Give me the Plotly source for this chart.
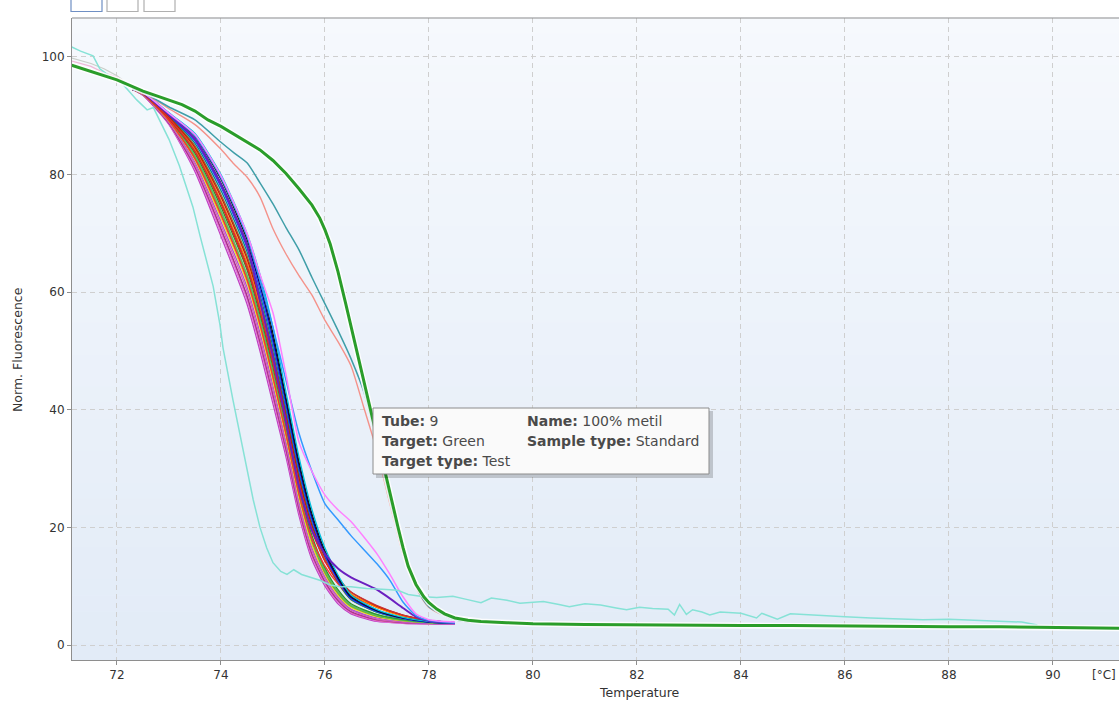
import plotly.graph_objects as go

# ---------------- data ----------------
X_TICKS = [72, 74, 76, 78, 80, 82, 84, 86, 88, 90]
Y_TICKS = [0, 20, 40, 60, 80, 100]

# shared temperature grid for the main bundle of tubes
X_BUNDLE = [72.3, 72.5, 73.0, 73.5, 74.0, 74.5, 74.75, 75.0, 75.25, 75.5,
            75.75, 76.0, 76.25, 76.5, 77.0, 77.5, 78.0, 78.5]

B01 = [94.5, 93.5, 88.5, 80.5, 69.5, 58.0, 50.0, 41.0, 32.0, 22.0, 14.5, 10.0, 7.0, 5.3, 4.0, 3.7, 3.6, 3.6]
B02 = [94.5, 93.5, 88.6, 80.9, 70.1, 58.7, 50.8, 41.8, 32.7, 22.6, 15.0, 10.4, 7.3, 5.5, 4.1, 3.7, 3.6, 3.6]
B03 = [94.5, 93.6, 88.7, 81.3, 70.8, 59.4, 51.6, 42.6, 33.3, 23.2, 15.5, 10.8, 7.6, 5.7, 4.3, 3.8, 3.7, 3.6]
B04 = [94.5, 93.6, 88.9, 81.7, 71.4, 60.2, 52.3, 43.3, 34.0, 23.8, 16.0, 11.2, 7.9, 5.9, 4.4, 3.9, 3.7, 3.6]
B05 = [94.5, 93.6, 89.0, 82.1, 72.0, 60.9, 53.1, 44.1, 34.6, 24.4, 16.5, 11.6, 8.2, 6.1, 4.6, 4.0, 3.7, 3.6]
B06 = [94.5, 93.7, 89.1, 82.5, 72.6, 61.6, 53.9, 44.9, 35.3, 25.0, 17.0, 12.0, 8.5, 6.4, 4.8, 4.1, 3.8, 3.7]
B07 = [94.5, 93.7, 89.2, 82.8, 73.3, 62.3, 54.7, 45.7, 36.0, 25.6, 17.6, 12.3, 8.8, 6.6, 4.9, 4.2, 3.8, 3.7]
B08 = [94.5, 93.7, 89.3, 83.2, 73.9, 63.0, 55.5, 46.5, 36.6, 26.2, 18.1, 12.7, 9.1, 6.8, 5.1, 4.3, 3.8, 3.7]
B09 = [94.5, 93.7, 89.5, 83.6, 74.5, 63.8, 56.2, 47.2, 37.3, 26.8, 18.6, 13.1, 9.4, 7.0, 5.2, 4.3, 3.9, 3.7]
B10 = [94.5, 93.8, 89.5, 83.9, 75.0, 64.2, 56.8, 47.8, 37.7, 27.4, 19.4, 14.2, 10.9, 8.6, 6.4, 5.0, 4.2, 3.8]
B11 = [94.5, 93.8, 89.7, 84.3, 75.6, 65.0, 57.5, 48.5, 38.4, 27.8, 19.8, 14.5, 11.1, 8.7, 6.4, 4.9, 4.1, 3.8]
B12 = [94.5, 93.8, 89.8, 84.6, 76.2, 65.7, 58.3, 49.3, 39.0, 28.4, 20.3, 15.0, 11.5, 9.0, 6.6, 5.1, 4.2, 3.8]
B13 = [94.5, 93.8, 89.9, 84.9, 76.6, 66.2, 58.8, 49.8, 39.5, 28.8, 20.3, 14.5, 10.5, 7.7, 5.6, 4.5, 3.9, 3.7]
B14 = [94.5, 93.9, 90.0, 85.3, 77.3, 66.9, 59.6, 50.6, 40.1, 29.4, 20.8, 14.8, 10.7, 7.8, 5.6, 4.5, 3.9, 3.7]
B15 = [94.5, 93.9, 90.1, 85.7, 77.9, 67.6, 60.4, 51.4, 40.8, 30.0, 21.3, 15.2, 11.0, 7.9, 5.7, 4.5, 3.9, 3.7]
B16 = [94.5, 93.9, 90.2, 86.1, 78.5, 68.3, 61.2, 52.2, 41.5, 30.6, 21.8, 15.6, 11.3, 8.1, 5.8, 4.6, 3.9, 3.7]
B17 = [94.5, 94.0, 90.3, 86.5, 79.2, 69.0, 62.0, 53.0, 42.1, 31.2, 22.3, 16.0, 11.6, 8.3, 5.9, 4.6, 4.0, 3.7]
B18 = [94.5, 94.0, 90.5, 87.0, 80.0, 70.0, 63.0, 54.0, 43.0, 32.0, 23.0, 16.5, 11.9, 8.5, 6.0, 4.7, 4.0, 3.7]
B19 = [94.5, 93.7, 89.2, 82.7, 73.1, 62.1, 54.5, 45.5, 35.9, 25.7, 18.0, 13.4, 10.4, 8.4, 6.5, 5.0, 4.2, 3.8]
B20 = [94.5, 93.5, 88.7, 81.2, 70.6, 59.2, 51.3, 42.3, 33.1, 23.0, 15.3, 10.6, 7.5, 5.6, 4.2, 3.8, 3.6, 3.6]
B21 = [94.5, 93.7, 89.3, 83.1, 73.7, 62.8, 55.2, 46.2, 36.4, 26.0, 17.9, 12.6, 9.0, 6.7, 5.0, 4.2, 3.8, 3.7]
B22 = [94.5, 93.8, 89.6, 84.0, 75.3, 64.5, 57.0, 48.0, 37.9, 27.5, 19.6, 14.4, 11.2, 9.0, 6.7, 5.1, 4.2, 3.8]

BUNDLE_COLORS = {
    "B01": "#c040c0", "B02": "#e070e0", "B20": "#e0609a", "B03": "#a03090",
    "B04": "#d860b8", "B05": "#b050d0", "B08": "#909090", "B06": "#e8e020",
    "B07": "#8a8a30", "B21": "#55c855", "B09": "#2a9a2a", "B13": "#996633",
    "B14": "#008b8b", "B15": "#1f3fff", "B16": "#000080", "B17": "#111111",
    "B18": "#00c0e0", "B19": "#ff3030", "B10": "#f01010", "B11": "#ff8c00",
    "B12": "#c02000", "B22": "#cc3333",
}

# faint early lines near the left edge
X_FAINT = [71.13, 71.5, 71.75, 72.0, 72.3]
FAINT_GRAY = [99.8, 98.9, 98.0, 96.8, 94.8]
FAINT_PINK = [99.3, 98.4, 97.3, 96.6, 94.8]

# light blue tube
X_LBLUE = [72.3, 72.5, 73.0, 73.5, 74.0, 74.5, 74.75, 75.0, 75.25, 75.5, 75.75, 76.0,
           76.25, 76.5, 77.0, 77.25, 77.5, 77.75, 78.0, 78.5]
Y_LBLUE = [94.5, 94.0, 90.4, 86.6, 79.5, 69.5, 62.0, 54.0, 45.0, 36.0, 29.5, 24.0,
           21.3, 18.6, 13.8, 11.0, 7.3, 5.0, 4.2, 3.8]

# pink tube
X_PINK = [72.3, 72.5, 73.0, 73.5, 74.0, 74.5, 74.75, 75.0, 75.25, 75.5, 75.75, 76.0,
          76.25, 76.5, 77.0, 77.25, 77.5, 77.75, 78.0, 78.5]
Y_PINK = [94.5, 94.0, 90.4, 86.8, 79.8, 70.0, 63.0, 56.5, 46.0, 34.5, 29.5, 25.5,
          23.0, 21.0, 15.5, 12.0, 8.2, 5.3, 4.3, 3.9]

# purple tube
X_PURPLE = [72.3, 72.5, 73.0, 73.5, 74.0, 74.5, 74.75, 75.0, 75.25, 75.5, 75.75, 76.0,
            76.25, 76.5, 77.0, 77.5, 77.75, 78.0, 78.5]
Y_PURPLE = [94.5, 93.9, 90.2, 86.0, 78.3, 68.0, 58.5, 49.0, 38.0, 27.0, 19.5, 15.5,
            13.0, 11.5, 9.4, 6.3, 4.8, 4.1, 3.8]

# teal tube (late melting)
X_TEAL = [72.3, 72.5, 73.0, 73.5, 74.0, 74.25, 74.5, 74.75, 75.0, 75.25, 75.5, 75.75,
          76.0, 76.25, 76.5, 76.75, 77.0, 77.25, 77.5, 77.75, 78.0, 78.5, 79.0]
Y_TEAL = [94.5, 94.0, 91.5, 89.3, 85.5, 83.7, 82.0, 78.6, 75.0, 71.0, 67.2, 62.5,
          58.0, 53.5, 48.7, 43.0, 34.0, 24.5, 16.0, 10.0, 6.5, 4.3, 3.8]

# salmon tube (late melting)
X_SALMON = [72.3, 72.5, 73.0, 73.5, 74.0, 74.25, 74.5, 74.75, 75.0, 75.25, 75.5, 75.75,
            76.0, 76.25, 76.5, 76.75, 77.0, 77.25, 77.5, 77.75, 78.0, 78.5, 79.0]
Y_SALMON = [94.5, 94.0, 91.2, 88.5, 84.3, 81.8, 79.6, 76.2, 70.8, 66.5, 62.8, 59.5,
            55.2, 51.6, 47.5, 40.3, 33.0, 24.0, 15.5, 9.8, 6.4, 4.3, 3.8]

# light cyan tube (early melting, noisy tail)
X_CYAN = [71.13, 71.3, 71.54, 71.67, 71.9, 72.1, 72.38, 72.58, 72.7, 73.0, 73.2, 73.46,
          73.6, 73.73, 73.85, 73.98, 74.04, 74.23, 74.42, 74.62, 74.75, 74.88, 75.0,
          75.15, 75.27, 75.4, 75.55, 75.7, 75.9, 76.1, 76.3, 76.5, 76.8, 77.1, 77.4,
          77.6, 77.9, 78.15, 78.46, 78.7, 79.0, 79.2, 79.5, 79.75, 80.0, 80.2, 80.5,
          80.7, 81.0, 81.3, 81.6, 81.8, 82.05, 82.3, 82.6, 82.72, 82.82, 82.95, 83.07,
          83.25, 83.4, 83.6, 84.0, 84.3, 84.4, 84.7, 84.95, 85.5, 86.0, 86.5, 87.0,
          87.5, 88.0, 88.5, 89.0, 89.4, 89.7]
Y_CYAN = [101.7, 101.0, 100.2, 98.0, 96.5, 95.5, 92.7, 91.0, 91.4, 86.0, 81.5, 74.5,
          69.5, 65.0, 61.0, 54.5, 50.5, 41.7, 33.2, 24.7, 20.0, 16.5, 14.0,
          12.5, 12.0, 12.8, 12.0, 11.6, 11.0, 10.2, 9.9, 9.9, 9.6, 9.5, 9.3,
          8.6, 8.2, 8.1, 8.3, 7.8, 7.2, 8.0, 7.6, 7.1, 7.2, 7.4, 6.9,
          6.5, 7.0, 6.8, 6.3, 6.0, 6.4, 6.2, 6.1, 5.1, 6.9, 5.2, 6.0,
          5.6, 5.1, 5.6, 5.4, 4.6, 5.4, 4.4, 5.3, 5.1, 4.8, 4.6, 4.5,
          4.3, 4.4, 4.2, 4.0, 3.9, 3.4]

# thick green tube 9 (100% metil)
X_TUBE9 = [71.13, 71.5, 72.0, 72.5, 73.0, 73.25, 73.5, 73.75, 74.0, 74.25, 74.5, 74.75,
           75.0, 75.25, 75.5, 75.75, 75.9, 76.0, 76.1, 76.25, 76.4, 76.5, 76.6, 76.75,
           77.0, 77.25, 77.4, 77.5, 77.6, 77.75, 77.9, 78.0, 78.15, 78.3, 78.5, 78.75,
           79.0, 79.5, 80.0, 81.0, 82.0, 83.0, 84.0, 85.0, 86.0, 87.0, 88.0, 89.0,
           90.0, 90.5, 91.0, 91.3]
Y_TUBE9 = [98.6, 97.5, 96.1, 94.2, 92.6, 91.9, 90.8, 89.3, 88.2, 86.9, 85.6, 84.2,
           82.4, 80.2, 77.6, 74.8, 72.6, 70.6, 68.2, 63.5, 58.0, 54.2, 50.3, 44.5,
           35.3, 25.8, 20.2, 16.6, 13.4, 10.3, 8.2, 7.2, 6.1, 5.3, 4.6, 4.2,
           4.0, 3.8, 3.6, 3.5, 3.4, 3.4, 3.3, 3.3, 3.2, 3.2, 3.1, 3.1,
           3.0, 2.95, 2.9, 2.85]

# ---------------- layout geometry ----------------
W, H = 1119, 703
L_M, R_M, T_M, B_M = 72, 0, 18, 43
PW, PH = W - L_M - R_M, H - T_M - B_M
PLOT_LEFT, PLOT_BOTTOM = L_M, H - B_M  # pixels


def px(xp):  # pixel x -> paper
    return (xp - PLOT_LEFT) / PW


def py(yp):  # pixel y -> paper
    return (PLOT_BOTTOM - yp) / PH


fig = go.Figure()

FONT = "DejaVu Sans, Verdana, sans-serif"

# faint lines
fig.add_trace(go.Scatter(x=X_FAINT, y=FAINT_GRAY, mode="lines",
                         line=dict(color="#c9cfc9", width=1.2)))
fig.add_trace(go.Scatter(x=X_FAINT, y=FAINT_PINK, mode="lines",
                         line=dict(color="#f0b8d8", width=1.2)))

bundle_order = ["B01", "B02", "B20", "B03", "B04", "B05", "B08", "B06", "B07",
                "B21", "B09", "B13", "B14", "B19", "B10", "B11", "B12", "B22",
                "B15", "B16", "B17", "B18"]
bundle_data = {"B01": B01, "B02": B02, "B03": B03, "B04": B04, "B05": B05, "B06": B06,
               "B07": B07, "B08": B08, "B09": B09, "B10": B10, "B11": B11, "B12": B12,
               "B13": B13, "B14": B14, "B15": B15, "B16": B16, "B17": B17, "B18": B18,
               "B19": B19, "B20": B20, "B21": B21, "B22": B22}
for k in bundle_order:
    fig.add_trace(go.Scatter(x=X_BUNDLE, y=bundle_data[k], mode="lines",
                             line=dict(color=BUNDLE_COLORS[k], width=1.3,
                                       shape="spline", smoothing=0.6)))

fig.add_trace(go.Scatter(x=X_PURPLE, y=Y_PURPLE, mode="lines",
                         line=dict(color="#6b1fc0", width=2, shape="spline", smoothing=0.6)))
fig.add_trace(go.Scatter(x=X_LBLUE, y=Y_LBLUE, mode="lines",
                         line=dict(color="#3399ff", width=1.5, shape="spline", smoothing=0.6)))
fig.add_trace(go.Scatter(x=X_PINK, y=Y_PINK, mode="lines",
                         line=dict(color="#ff80ff", width=1.5, shape="spline", smoothing=0.6)))
fig.add_trace(go.Scatter(x=X_SALMON, y=Y_SALMON, mode="lines",
                         line=dict(color="#f4928a", width=1.4, shape="spline", smoothing=0.6)))
fig.add_trace(go.Scatter(x=X_TEAL, y=Y_TEAL, mode="lines",
                         line=dict(color="#3f9ea8", width=1.5, shape="spline", smoothing=0.6)))
fig.add_trace(go.Scatter(x=X_CYAN, y=Y_CYAN, mode="lines",
                         line=dict(color="#86e2d6", width=1.5)))
# halo + thick green
fig.add_trace(go.Scatter(x=X_TUBE9, y=Y_TUBE9, mode="lines",
                         line=dict(color="rgba(255,255,255,0.85)", width=6)))
fig.add_trace(go.Scatter(x=X_TUBE9, y=Y_TUBE9, mode="lines",
                         line=dict(color="#2a9d2a", width=3)))

shapes = []
# gradient plot background
NB = 40
top_c = (246, 249, 253)
bot_c = (226, 235, 247)
for i in range(NB):
    f = (i + 0.5) / NB
    c = tuple(round(top_c[j] + (bot_c[j] - top_c[j]) * f) for j in range(3))
    shapes.append(dict(type="rect", xref="paper", yref="paper", x0=0, x1=1,
                       y0=1 - (i + 1) / NB, y1=1 - i / NB + 0.001,
                       fillcolor="rgb(%d,%d,%d)" % c, line=dict(width=0), layer="below"))
# top border
shapes.append(dict(type="line", xref="paper", yref="paper", x0=0, x1=1, y0=1, y1=1,
                   line=dict(color="#8e8e8e", width=1), layer="above"))
# toolbar buttons (partially cut)
for (a, b, col) in [(71, 102, "#6f8fc4"), (107, 138, "#b0b0b0"), (144, 175, "#b0b0b0")]:
    shapes.append(dict(type="rect", xref="paper", yref="paper", x0=px(a), x1=px(b),
                       y0=py(11.5), y1=py(-4), fillcolor="#ffffff",
                       line=dict(color=col, width=1.2), layer="above"))
# tooltip shadow + box
shapes.append(dict(type="rect", xref="paper", yref="paper", x0=px(376), x1=px(713),
                   y0=py(478), y1=py(411), fillcolor="rgba(0,0,0,0.18)",
                   line=dict(width=0), layer="above"))
shapes.append(dict(type="rect", xref="paper", yref="paper", x0=px(373), x1=px(709),
                   y0=py(474), y1=py(408), fillcolor="#fafafa",
                   line=dict(color="#8c8c8c", width=1), layer="above"))

annotations = []
TT = dict(family=FONT, size=14, color="#4a4a4a")
for (xp, yp, lab, val) in [(380, 421, "Tube:", "9"), (525, 421, "Name:", "100% metil"),
                           (380, 441, "Target:", "Green"),
                           (525, 441, "Sample type:", "Standard"),
                           (380, 461, "Target type:", "Test")]:
    annotations.append(dict(xref="paper", yref="paper", x=px(xp), y=py(yp),
                            xanchor="left", yanchor="middle", showarrow=False,
                            text="<b>%s</b> %s" % (lab, val), font=TT))
annotations.append(dict(xref="paper", yref="paper", x=px(639), y=py(692),
                        xanchor="center", yanchor="middle", showarrow=False,
                        text="Temperature", font=dict(family=FONT, size=12.5, color="#333333")))
annotations.append(dict(xref="paper", yref="paper", x=px(17), y=py(350),
                        xanchor="center", yanchor="middle", showarrow=False, textangle=-90,
                        text="Norm. Fluorescence", font=dict(family=FONT, size=12.5, color="#333333")))
annotations.append(dict(xref="paper", yref="paper", x=px(1118), y=py(675),
                        xanchor="right", yanchor="middle", showarrow=False,
                        text="[°C]", font=dict(family=FONT, size=12, color="#333333")))

fig.update_layout(
    width=W, height=H,
    margin=dict(l=L_M, r=R_M, t=T_M, b=B_M, pad=0),
    paper_bgcolor="#ffffff", plot_bgcolor="#eef3fa",
    showlegend=False, hovermode=False,
    shapes=shapes, annotations=annotations,
    font=dict(family=FONT, size=12, color="#333333"),
    xaxis=dict(range=[71.135, 91.27], tickvals=X_TICKS, ticktext=[str(v) for v in X_TICKS],
               showgrid=True, gridcolor="#cfcfcf", griddash="5px,4px", gridwidth=1,
               zeroline=False, showline=True, linecolor="#8e8e8e", linewidth=1,
               ticks="outside", ticklen=4, tickcolor="#8e8e8e",
               tickfont=dict(family=FONT, size=12, color="#333333")),
    yaxis=dict(range=[-2.55, 106.63], tickvals=Y_TICKS, ticktext=[str(v) for v in Y_TICKS],
               showgrid=True, gridcolor="#cfcfcf", griddash="5px,4px", gridwidth=1,
               zeroline=False, showline=True, linecolor="#8e8e8e", linewidth=1,
               ticks="outside", ticklen=4, tickcolor="#8e8e8e",
               tickfont=dict(family=FONT, size=12, color="#333333")),
)

# remove the default 8px page margin so the figure sits at the window's top-left
fig.write_html("out.html",
               config={"displayModeBar": False},
               post_script="document.body.style.margin='0px';"
                           "document.body.style.overflow='hidden';")
